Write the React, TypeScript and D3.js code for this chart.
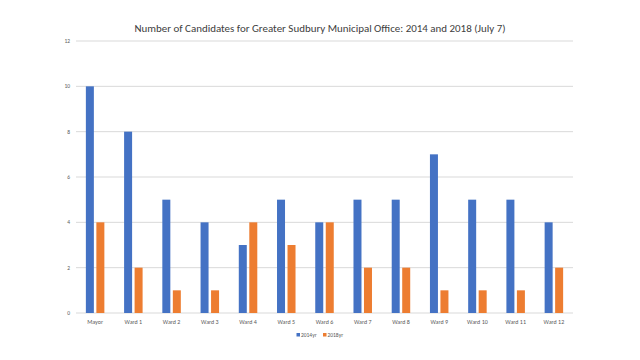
import React from "react";
import * as d3 from "d3";

const categories = ["Mayor", "Ward 1", "Ward 2", "Ward 3", "Ward 4", "Ward 5", "Ward 6", "Ward 7", "Ward 8", "Ward 9", "Ward 10", "Ward 11", "Ward 12"];
const values2014 = [10, 8, 5, 4, 3, 5, 4, 5, 5, 7, 5, 5, 4];
const values2018 = [4, 2, 1, 1, 4, 3, 4, 2, 2, 1, 1, 1, 2];
const seriesNames = ["2014yr", "2018yr"];
const yTicks = [0, 2, 4, 6, 8, 10, 12];
const title = "Number of Candidates for Greater Sudbury Municipal Office: 2014 and 2018 (July 7)";

const colors = ["#4472C4", "#ED7D31"];
const font = "Carlito, 'Open Sans', 'Liberation Sans', sans-serif";

export default function App() {
  const W = 640, H = 360;
  const left = 76, right = 573, top = 41, bottom = 313;
  const x = d3.scaleBand<string>().domain(categories).range([left, right]);
  const y = d3.scaleLinear().domain([0, 12]).range([bottom, top]);
  const barW = 8;
  const gap = 2.5;
  const series = [values2014, values2018];
  return (
    <svg width={W} height={H} style={{ position: "absolute", left: 0, top: 0, background: "#fff" }}>
      <rect x={0} y={0} width={W} height={H} fill="#fff" />
      <text x={320} y={32} textAnchor="middle" fontFamily={font} fontSize={10.5} fill="#404040" textLength={371} lengthAdjust="spacingAndGlyphs">{title}</text>
      {yTicks.map((t) => (
        <g key={t}>
          <line x1={left} x2={right} y1={y(t)} y2={y(t)} stroke="#d9d9d9" strokeWidth={1} />
          <text x={70} y={y(t) + 2} textAnchor="end" fontFamily={font} fontSize={5.5} fill="#595959">{t}</text>
        </g>
      ))}
      {series.map((vals, si) =>
        vals.map((v, i) => {
          const c = (x(categories[i]) as number) + x.bandwidth() / 2;
          const bx = si === 0 ? c - gap / 2 - barW : c + gap / 2;
          return <rect key={si + "-" + i} x={bx} y={y(v)} width={barW} height={y(0) - y(v)} fill={colors[si]} />;
        })
      )}
      {categories.map((c) => (
        <text key={c} x={(x(c) as number) + x.bandwidth() / 2} y={324} textAnchor="middle" fontFamily={font} fontSize={6} fill="#595959">{c}</text>
      ))}
      <g>
        <rect x={296.5} y={333} width={3.5} height={3.5} fill={colors[0]} />
        <text x={301} y={337} fontFamily={font} fontSize={5.5} fill="#595959">{seriesNames[0]}</text>
        <rect x={323} y={333} width={3.5} height={3.5} fill={colors[1]} />
        <text x={327.5} y={337} fontFamily={font} fontSize={5.5} fill="#595959">{seriesNames[1]}</text>
      </g>
    </svg>
  );
}
